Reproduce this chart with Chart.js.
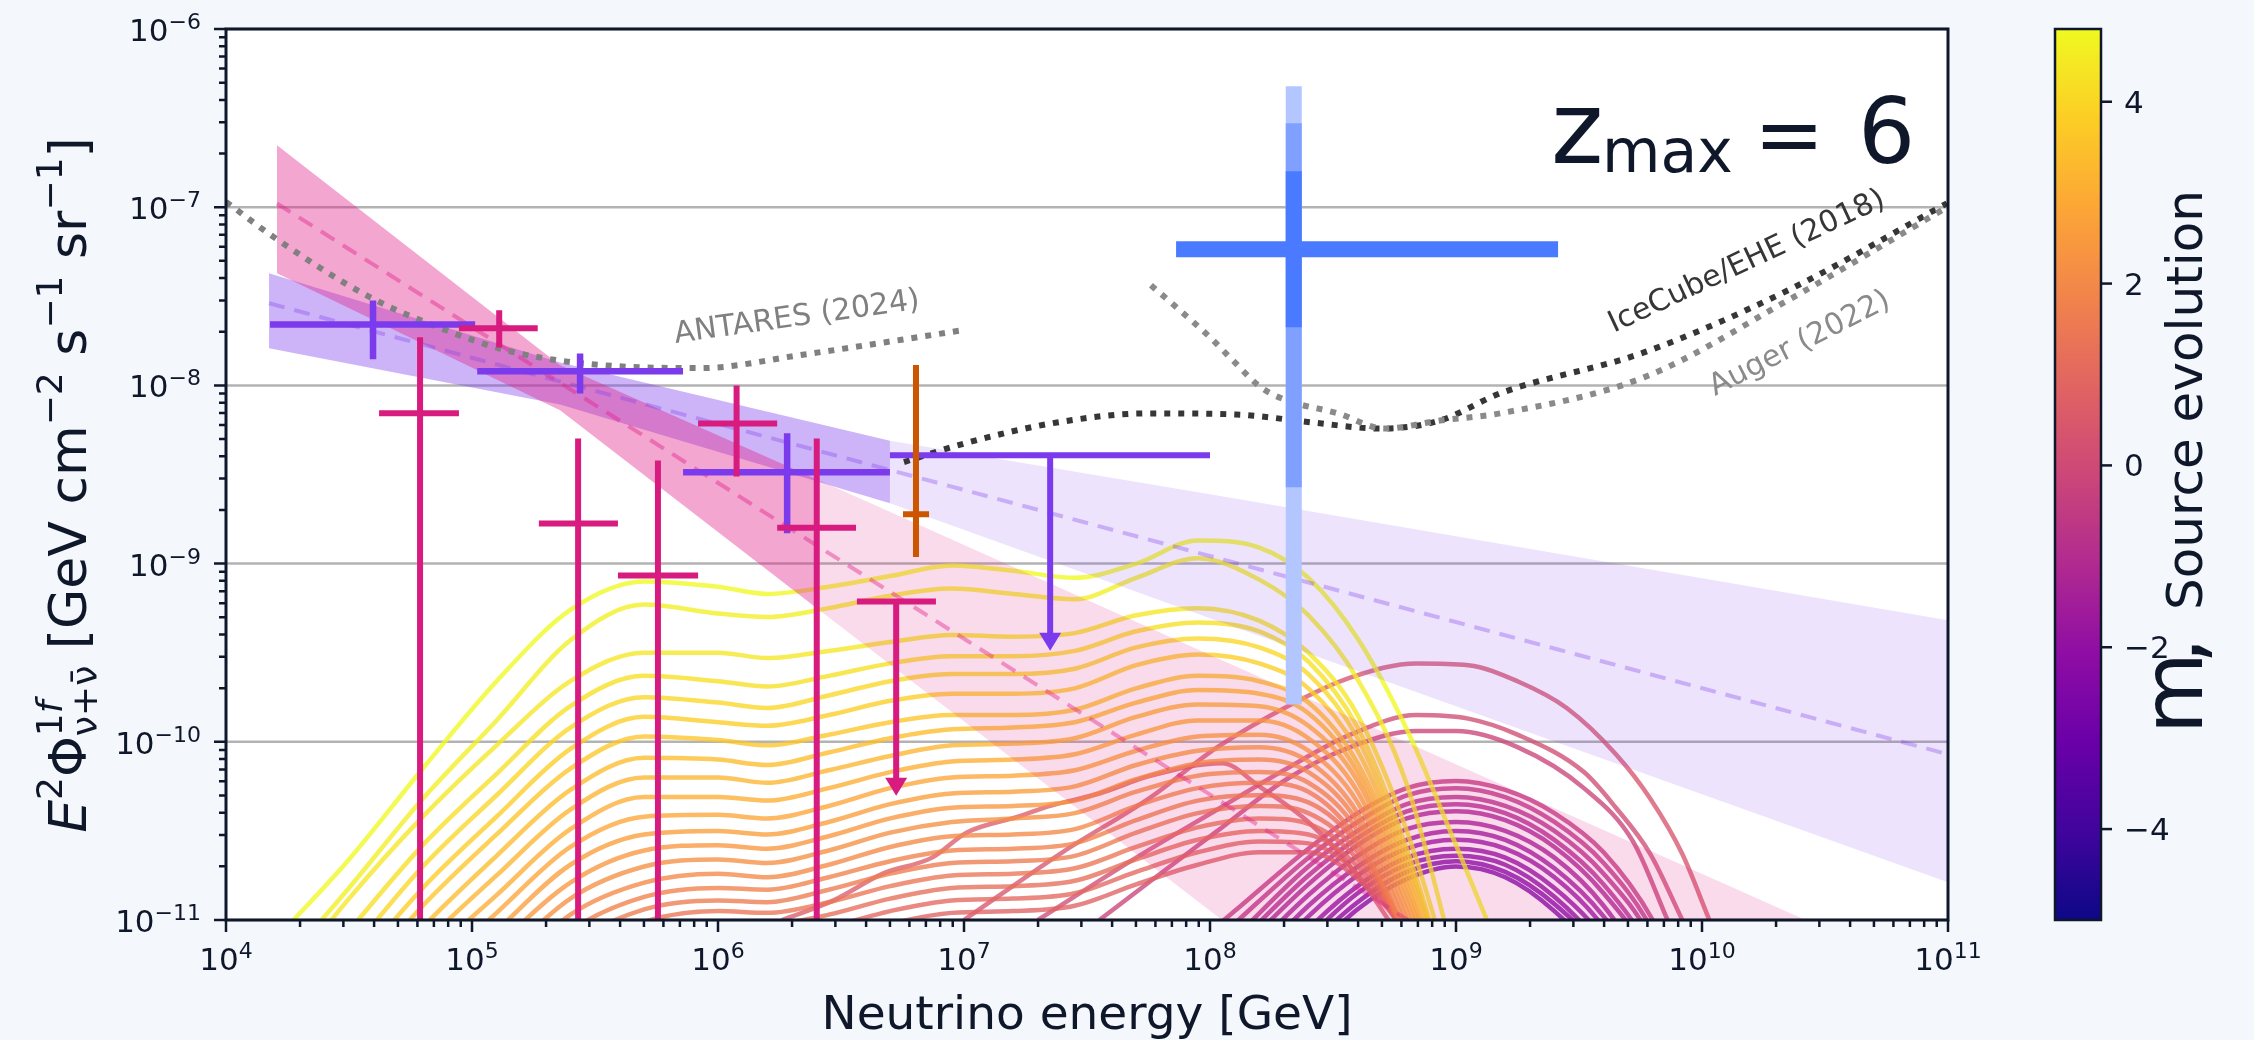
<!DOCTYPE html>
<html>
<head>
<meta charset="utf-8">
<script src="https://cdn.jsdelivr.net/npm/chart.js@4.4.1/dist/chart.umd.min.js"></script>
<style>
  html, body { margin: 0; padding: 0; background: #f4f7fb; }
  canvas { display: block; }
</style>
</head>
<body>
<canvas id="chart" width="2254" height="1040"></canvas>
<script>
// ---- model curves (log10 E [GeV] -> log10 E^2 Phi) ----
const plateauGrid = [4.2, 4.5, 4.8, 5.1, 5.4, 5.7, 6.0, 6.2, 6.45, 6.7, 6.95, 7.2, 7.45, 7.7, 7.95, 8.2, 8.4, 8.6, 8.8, 9.0, 9.2];
const plateauM = [4.8, 4.6, 4.4, 4.2, 4.0, 3.8, 3.6, 3.4, 3.2, 3.0, 2.8, 2.6, 2.4, 2.2, 2.0, 1.8, 1.6, 1.4, 1.2, 1.0, 0.8];
const plateauFlux = [
  [-11.11, -10.66, -10.15, -9.66, -9.26, -9.10, -9.13, -9.17, -9.13, -9.07, -9.01, -9.04, -9.08, -9.00, -8.87, -8.91, -9.08, -9.42, -9.93, -10.58, -11.25],
  [-11.30, -10.82, -10.32, -9.88, -9.43, -9.23, -9.28, -9.30, -9.25, -9.18, -9.14, -9.17, -9.20, -9.08, -8.97, -9.09, -9.29, -9.65, -10.24, -11.25, -12.2],
  [-11.40, -10.88, -10.42, -10.02, -9.66, -9.50, -9.50, -9.53, -9.49, -9.44, -9.40, -9.41, -9.39, -9.29, -9.25, -9.32, -9.50, -9.85, -10.50, -11.40, -12.3],
  [-11.55, -11.06, -10.58, -10.18, -9.80, -9.63, -9.66, -9.69, -9.63, -9.56, -9.52, -9.52, -9.49, -9.38, -9.33, -9.38, -9.55, -9.92, -10.60, -11.50, -12.4],
  [-11.70, -11.19, -10.70, -10.30, -9.92, -9.75, -9.78, -9.81, -9.74, -9.66, -9.62, -9.62, -9.59, -9.47, -9.42, -9.47, -9.62, -9.98, -10.65, -11.50, -12.4],
  [-11.80, -11.30, -10.82, -10.42, -10.04, -9.86, -9.89, -9.91, -9.85, -9.77, -9.73, -9.73, -9.70, -9.57, -9.51, -9.56, -9.70, -10.05, -10.70, -11.50, -12.4],
  [-11.90, -11.40, -10.92, -10.52, -10.15, -9.97, -9.99, -10.02, -9.96, -9.89, -9.85, -9.85, -9.82, -9.70, -9.63, -9.66, -9.78, -10.12, -10.75, -11.60, -12.4],
  [-12.00, -11.50, -11.04, -10.64, -10.27, -10.09, -10.10, -10.13, -10.06, -9.98, -9.93, -9.92, -9.89, -9.78, -9.71, -9.73, -9.84, -10.17, -10.80, -11.60, -12.4],
  [-12.10, -11.60, -11.14, -10.75, -10.38, -10.20, -10.20, -10.23, -10.16, -10.08, -10.02, -10.01, -9.98, -9.86, -9.79, -9.80, -9.91, -10.22, -10.85, -11.60, -12.4],
  [-12.20, -11.70, -11.24, -10.86, -10.49, -10.31, -10.31, -10.33, -10.26, -10.17, -10.11, -10.10, -10.07, -9.96, -9.88, -9.88, -9.98, -10.28, -10.90, -11.60, -12.4],
  [-12.30, -11.80, -11.34, -10.96, -10.59, -10.42, -10.41, -10.43, -10.36, -10.26, -10.20, -10.19, -10.16, -10.05, -9.97, -9.96, -10.05, -10.34, -10.95, -11.70, -12.4],
  [-12.40, -11.90, -11.45, -11.06, -10.69, -10.52, -10.50, -10.52, -10.45, -10.35, -10.29, -10.28, -10.25, -10.13, -10.05, -10.03, -10.11, -10.40, -11.00, -11.70, -12.4],
  [-12.50, -12.00, -11.55, -11.15, -10.79, -10.61, -10.58, -10.60, -10.53, -10.43, -10.37, -10.36, -10.33, -10.21, -10.12, -10.10, -10.17, -10.45, -11.05, -11.80, -12.4],
  [-12.60, -12.10, -11.65, -11.25, -10.88, -10.70, -10.66, -10.68, -10.61, -10.51, -10.45, -10.43, -10.40, -10.28, -10.19, -10.17, -10.23, -10.50, -11.10, -11.80, -12.4],
  [-12.70, -12.20, -11.75, -11.35, -10.97, -10.79, -10.74, -10.76, -10.69, -10.59, -10.53, -10.52, -10.49, -10.36, -10.26, -10.23, -10.28, -10.55, -11.10, -11.80, -12.4],
  [-12.80, -12.30, -11.85, -11.44, -11.06, -10.87, -10.82, -10.83, -10.76, -10.67, -10.61, -10.60, -10.57, -10.44, -10.33, -10.30, -10.34, -10.58, -11.10, -11.80, -12.4],
  [-12.90, -12.40, -11.95, -11.53, -11.14, -10.94, -10.89, -10.90, -10.83, -10.74, -10.68, -10.67, -10.64, -10.51, -10.40, -10.36, -10.40, -10.62, -11.10, -11.80, -12.4],
  [-13.00, -12.50, -12.05, -11.62, -11.22, -11.01, -10.95, -10.96, -10.90, -10.81, -10.75, -10.74, -10.71, -10.59, -10.48, -10.43, -10.46, -10.66, -11.10, -11.80, -12.4],
  [-13.00, -12.60, -12.15, -11.72, -11.32, -11.10, -11.04, -11.03, -10.97, -10.88, -10.82, -10.81, -10.78, -10.66, -10.55, -10.50, -10.52, -10.70, -11.10, -11.80, -12.4],
  [-13.00, -12.70, -12.25, -11.82, -11.42, -11.18, -11.12, -11.10, -11.04, -10.95, -10.89, -10.88, -10.85, -10.73, -10.62, -10.56, -10.57, -10.74, -11.10, -11.80, -12.4],
  [-13.00, -12.80, -12.35, -11.92, -11.52, -11.27, -11.20, -11.17, -11.11, -11.02, -10.96, -10.95, -10.92, -10.80, -10.69, -10.62, -10.62, -10.77, -11.10, -11.80, -12.4],
];

const archM = [0.6, 0.4, 0.1, -0.2];
const archE = [
  [6.26, 6.47, 6.67, 6.87, 7.01, 7.22, 7.35, 7.55, 7.76, 8.05, 8.2, 8.4, 8.6, 8.75],
  [7.0, 7.4, 7.76, 8.03, 8.33, 8.57, 8.84, 9.05, 9.25, 9.45, 9.65, 9.79, 9.92, 10.03],
  [7.3, 7.7, 8.03, 8.3, 8.57, 8.84, 9.05, 9.25, 9.52, 9.65, 9.79, 9.92],
  [7.55, 7.76, 8.03, 8.3, 8.57, 8.84, 9.0, 9.25, 9.52, 9.72, 9.86],
];
const archFlux = [
  [-11.0, -10.89, -10.74, -10.65, -10.51, -10.42, -10.36, -10.29, -10.19, -10.12, -10.25, -10.45, -10.75, -11.05],
  [-11.0, -10.62, -10.31, -10.03, -9.79, -9.64, -9.56, -9.57, -9.66, -9.81, -10.07, -10.32, -10.63, -11.0],
  [-11.0, -10.65, -10.38, -10.16, -9.96, -9.85, -9.87, -9.96, -10.17, -10.37, -10.63, -11.0],
  [-11.0, -10.78, -10.5, -10.22, -10.03, -9.94, -9.94, -10.03, -10.26, -10.56, -11.0],
];

const violetGrid = [7.8, 8.1, 8.4, 8.6, 8.8, 9.0, 9.2, 9.4, 9.6, 9.8, 10.0];
const violetM = [-0.5, -0.7, -0.9, -1.1, -1.3, -1.5, -1.7, -1.9, -2.1, -2.3, -2.5, -2.7];
const violetFlux = [
  [-11.30, -10.95, -10.60, -10.40, -10.26, -10.22, -10.27, -10.40, -10.62, -11.00, -11.6],
  [-11.40, -11.02, -10.65, -10.45, -10.30, -10.26, -10.31, -10.45, -10.68, -11.06, -11.7],
  [-11.50, -11.10, -10.70, -10.50, -10.35, -10.31, -10.36, -10.50, -10.74, -11.12, -11.8],
  [-11.55, -11.15, -10.75, -10.54, -10.39, -10.35, -10.40, -10.55, -10.80, -11.20, -11.9],
  [-11.60, -11.20, -10.80, -10.58, -10.43, -10.39, -10.44, -10.59, -10.85, -11.25, -12.0],
  [-11.70, -11.27, -10.86, -10.64, -10.49, -10.45, -10.50, -10.65, -10.92, -11.35, -12.0],
  [-11.80, -11.35, -10.92, -10.70, -10.55, -10.50, -10.55, -10.71, -10.98, -11.40, -12.0],
  [-11.90, -11.42, -10.98, -10.75, -10.60, -10.55, -10.60, -10.76, -11.04, -11.50, -12.0],
  [-12.00, -11.50, -11.05, -10.81, -10.65, -10.60, -10.65, -10.82, -11.10, -11.55, -12.0],
  [-12.00, -11.55, -11.10, -10.85, -10.69, -10.64, -10.69, -10.87, -11.16, -11.60, -12.0],
  [-12.00, -11.60, -11.15, -10.90, -10.73, -10.67, -10.73, -10.91, -11.20, -11.70, -12.0],
  [-12.00, -11.65, -11.20, -10.94, -10.77, -10.70, -10.76, -10.95, -11.25, -11.75, -12.0],
];

// ---- power-law fit bands (log10) ----
const pinkFitE = [4.207, 5.358, 6.402];
const pinkFitHi = [-6.652, -7.887, -8.527];
const pinkFitLo = [-7.371, -8.14, -9.25];
const pinkExtE = [6.402, 8.049, 11.0];
const pinkExtHi = [-8.527, -9.543, -11.355];
const pinkExtLo = [-9.25, -11.0, -14.1];
const pinkBestE = [4.207, 11.0];
const pinkBestF = [-6.979, -12.92];

const violetFitE = [4.175, 5.358, 6.699];
const violetFitHi = [-7.371, -7.871, -8.31];
const violetFitLo = [-7.792, -8.107, -8.661];
const violetExtE = [6.699, 8.0, 11.0];
const violetExtHi = [-8.31, -8.611, -9.318];
const violetExtLo = [-8.661, -9.306, -10.788];
const violetBestE = [4.175, 11.0];
const violetBestF = [-7.539, -10.07];

// ---- sensitivities (log10) ----
const antaresE = [4.0, 4.207, 4.585, 4.894, 5.13, 5.439, 5.927, 6.333, 6.996];
const antaresF = [-6.97, -7.18, -7.505, -7.69, -7.80, -7.875, -7.903, -7.83, -7.69];
const iceCubeE = [6.756, 7.004, 7.378, 7.752, 8.106, 8.415, 8.691, 8.935, 9.179, 9.764, 10.35, 10.996];
const iceCubeF = [-8.43, -8.325, -8.208, -8.157, -8.163, -8.208, -8.242, -8.197, -8.045, -7.815, -7.466, -6.978];
const augerE = [7.76, 7.878, 8.0, 8.093, 8.207, 8.313, 8.52, 8.707, 8.935, 9.179, 9.764, 10.35, 10.996];
const augerF = [-7.438, -7.579, -7.73, -7.86, -8.011, -8.084, -8.157, -8.242, -8.197, -8.157, -7.955, -7.522, -7.0];

// ---- measured points (GeV, GeV cm^-2 s^-1 sr^-1) ----
const magentaE = [6.15e4, 1.29e5, 2.70e5, 5.70e5, 1.19e6, 2.52e6];
const magentaElo = [4.19e4, 8.85e4, 1.87e5, 3.92e5, 8.30e5, 1.74e6];
const magentaEhi = [8.85e4, 1.85e5, 3.92e5, 8.30e5, 1.74e6, 3.64e6];
const magentaF = [6.97e-9, 2.09e-8, 1.68e-9, 8.57e-10, 6.12e-9, 1.59e-9];
const magentaFlo = [1e-13, 1.63e-8, 1e-13, 1e-13, 3.08e-9, 1e-13];
const magentaFhi = [1.86e-8, 2.64e-8, 5.04e-9, 3.79e-9, 1.0e-8, 5.04e-9];
const magentaLimit = [5.30e6, 3.67e6, 7.69e6, 6.12e-10, 4.98e-11]; // E, Elo, Ehi, F, arrow tip

const violetE = [3.96e4, 2.75e5, 1.91e6];
const violetElo = [1.51e4, 1.05e5, 7.21e5];
const violetEhi = [1.03e5, 7.21e5, 5.0e6];
const violetF = [2.2e-8, 1.2e-8, 3.26e-9];
const violetFlo = [1.40e-8, 9.0e-9, 1.48e-9];
const violetFhi = [3.0e-8, 1.51e-8, 5.39e-9];
const violetLimit = [2.24e7, 5.0e6, 1.0e8, 4.05e-9, 3.24e-10];

const orangePoint = [6.38e6, 5.65e6, 7.21e6, 1.89e-9, 1.09e-9, 1.30e-8]; // E, Elo, Ehi, F, Flo, Fhi

const bluePoint = [2.19e8, 7.28e7, 2.6e9, 5.8e-8];
const blueSigma1 = [2.12e-8, 1.59e-7];
const blueSigma2 = [2.68e-9, 2.96e-7];
const blueSigma3 = [1.62e-10, 4.78e-7];

// ---- axes ----
const xPowers = [4, 5, 6, 7, 8, 9, 10, 11];
const yPowers = [-11, -10, -9, -8, -7, -6];
const cbRange = [-5, 4.8];
const cbTicks = [-4, -2, 0, 2, 4];

const INK = '#0f172a';
const FONT = '"DejaVu Sans"';
const plasmaStops = ['#0d0887', '#41049d', '#6a00a8', '#8f0da4', '#b12a90', '#cc4778', '#e16462', '#f2844b', '#fca636', '#fcce25', '#f0f921'];

function hexRgb(h) {
    return [1, 3, 5].map((i) => parseInt(h.slice(i, i + 2), 16));
}

function plasma(m, alpha) {
    let t = (m - cbRange[0]) / (cbRange[1] - cbRange[0]);
    t = Math.min(1, Math.max(0, t));
    const p = t * (plasmaStops.length - 1);
    const i = Math.min(Math.floor(p), plasmaStops.length - 2);
    const f = p - i;
    const a = hexRgb(plasmaStops[i]);
    const b = hexRgb(plasmaStops[i + 1]);
    const c = a.map((v, k) => Math.round(v + (b[k] - v) * f));
    return `rgba(${c[0]}, ${c[1]}, ${c[2]}, ${alpha})`;
}

function pts(xs, ys) {
    return xs.map((x, i) => ({ x: 10 ** x, y: 10 ** ys[i] }));
}

const datasets = [];

function addCurve(data, m) {
    datasets.push({
        data, borderColor: plasma(m, 0.78), borderWidth: 4.5, pointRadius: 0,
        fill: false, cubicInterpolationMode: 'monotone', order: 40, clip: 0,
    });
}

plateauFlux.forEach((row, i) => addCurve(pts(plateauGrid, row), plateauM[i]));
archFlux.forEach((row, i) => addCurve(pts(archE[i], row), archM[i]));
violetFlux.forEach((row, i) => addCurve(pts(violetGrid, row), violetM[i]));

function addBand(xs, lo, hi, color) {
    const loIndex = datasets.length;
    datasets.push({ data: pts(xs, lo), borderWidth: 0, pointRadius: 0, fill: false, order: 30, clip: 0 });
    datasets.push({
        data: pts(xs, hi), borderWidth: 0, pointRadius: 0, order: 30, clip: 0,
        fill: loIndex, backgroundColor: color,
    });
}

addBand(pinkFitE, pinkFitLo, pinkFitHi, 'rgba(224, 33, 138, 0.40)');
addBand(pinkExtE, pinkExtLo, pinkExtHi, 'rgba(224, 33, 138, 0.16)');
addBand(violetFitE, violetFitLo, violetFitHi, 'rgba(124, 58, 237, 0.38)');
addBand(violetExtE, violetExtLo, violetExtHi, 'rgba(124, 58, 237, 0.14)');

datasets.push({
    data: pts(pinkBestE, pinkBestF), borderColor: 'rgba(224, 33, 138, 0.42)', borderWidth: 4,
    borderDash: [16, 10], pointRadius: 0, fill: false, order: 20, clip: 0,
});
datasets.push({
    data: pts(violetBestE, violetBestF), borderColor: 'rgba(124, 58, 237, 0.32)', borderWidth: 4,
    borderDash: [16, 10], pointRadius: 0, fill: false, order: 20, clip: 0,
});

function addSensitivity(xs, ys, color) {
    datasets.push({
        data: pts(xs, ys), borderColor: color, borderWidth: 6, borderDash: [6, 8],
        borderCapStyle: 'butt', pointRadius: 0, fill: false,
        cubicInterpolationMode: 'monotone', order: 10, clip: 0,
    });
}

addSensitivity(antaresE, antaresF, '#808080');
addSensitivity(augerE, augerF, '#8a8a8a');
addSensitivity(iceCubeE, iceCubeF, '#363636');

// ---- drawing helpers ----
function errorBar(ctx, sx, sy, e, elo, ehi, f, flo, fhi, color, lw) {
    const x = sx.getPixelForValue(e);
    const y = sy.getPixelForValue(f);
    ctx.strokeStyle = color;
    ctx.lineWidth = lw;
    ctx.lineCap = 'butt';
    ctx.beginPath();
    ctx.moveTo(sx.getPixelForValue(elo), y);
    ctx.lineTo(sx.getPixelForValue(ehi), y);
    ctx.moveTo(x, sy.getPixelForValue(fhi));
    ctx.lineTo(x, sy.getPixelForValue(flo));
    ctx.stroke();
}

function upperLimit(ctx, sx, sy, vals, color, lw) {
    const [e, elo, ehi, f, tip] = vals;
    const x = sx.getPixelForValue(e);
    const y = sy.getPixelForValue(f);
    const ty = sy.getPixelForValue(tip);
    ctx.strokeStyle = color;
    ctx.fillStyle = color;
    ctx.lineWidth = lw;
    ctx.lineCap = 'butt';
    ctx.beginPath();
    ctx.moveTo(sx.getPixelForValue(elo), y);
    ctx.lineTo(sx.getPixelForValue(ehi), y);
    ctx.moveTo(x, y);
    ctx.lineTo(x, ty - 16);
    ctx.stroke();
    ctx.beginPath();
    ctx.moveTo(x - 11, ty - 18);
    ctx.lineTo(x + 11, ty - 18);
    ctx.lineTo(x, ty);
    ctx.closePath();
    ctx.fill();
}

function runs(ctx, pieces, x, baseline, draw) {
    let cx = x;
    for (const p of pieces) {
        if (p.stack) {
            let w1 = 0;
            for (const s of p.sup) {
                ctx.font = `${s.it ? 'italic ' : ''}${p.s}px ${FONT}`;
                if (draw) ctx.fillText(s.t, cx + w1, baseline + p.dsup);
                w1 += ctx.measureText(s.t).width;
            }
            ctx.font = `${p.s}px ${FONT}`;
            if (draw) ctx.fillText(p.sub, cx, baseline + p.dsub);
            cx += Math.max(w1, ctx.measureText(p.sub).width);
            continue;
        }
        ctx.font = `${p.it ? 'italic ' : ''}${p.s}px ${FONT}`;
        if (draw) ctx.fillText(p.t, cx, baseline + (p.dy || 0));
        cx += ctx.measureText(p.t).width;
    }
    return cx - x;
}

function powerLabel(ctx, exp, x, baseline, align, big, small, raise) {
    const e = exp < 0 ? '\u2212' + Math.abs(exp) : String(exp);
    ctx.font = `${big}px ${FONT}`;
    const w1 = ctx.measureText('10').width;
    ctx.font = `${small}px ${FONT}`;
    const w2 = ctx.measureText(e).width;
    const left = align === 'center' ? x - (w1 + w2) / 2 : x - (w1 + w2);
    ctx.textAlign = 'left';
    ctx.font = `${big}px ${FONT}`;
    ctx.fillText('10', left, baseline);
    ctx.font = `${small}px ${FONT}`;
    ctx.fillText(e, left + w1, baseline - raise);
}

function rotatedText(ctx, text, x, y, deg, size, color) {
    ctx.save();
    ctx.translate(x, y);
    ctx.rotate(deg * Math.PI / 180);
    ctx.font = `${size}px ${FONT}`;
    ctx.fillStyle = color;
    ctx.textAlign = 'center';
    ctx.textBaseline = 'middle';
    ctx.fillText(text, 0, 0);
    ctx.restore();
}

const backdrop = {
    id: 'backdrop',
    beforeDraw(chart) {
        const { ctx, chartArea: a } = chart;
        ctx.save();
        ctx.fillStyle = '#f4f7fb';
        ctx.fillRect(0, 0, chart.width, chart.height);
        ctx.fillStyle = '#ffffff';
        ctx.fillRect(a.left, a.top, a.right - a.left, a.bottom - a.top);
        const sy = chart.scales.y;
        ctx.strokeStyle = '#b3b3b3';
        ctx.lineWidth = 2.5;
        yPowers.forEach((p) => {
            const y = sy.getPixelForValue(10 ** p);
            ctx.beginPath();
            ctx.moveTo(a.left, y);
            ctx.lineTo(a.right, y);
            ctx.stroke();
        });
        ctx.restore();
    },
};

const overlay = {
    id: 'overlay',
    afterDatasetsDraw(chart) {
        const { ctx, chartArea: a } = chart;
        const sx = chart.scales.x;
        const sy = chart.scales.y;
        ctx.save();
        ctx.beginPath();
        ctx.rect(a.left, a.top, a.right - a.left, a.bottom - a.top);
        ctx.clip();

        // blue point: 3, 2, 1 sigma bands
        const bx = sx.getPixelForValue(bluePoint[0]);
        [[blueSigma3, '#b3c6ff'], [blueSigma2, '#80a0ff'], [blueSigma1, '#4a7aff']].forEach(([s, c]) => {
            ctx.strokeStyle = c;
            ctx.lineWidth = 16;
            ctx.beginPath();
            ctx.moveTo(bx, sy.getPixelForValue(s[1]));
            ctx.lineTo(bx, sy.getPixelForValue(s[0]));
            ctx.stroke();
        });
        ctx.strokeStyle = '#4a7aff';
        ctx.lineWidth = 16;
        ctx.beginPath();
        const by = sy.getPixelForValue(bluePoint[3]);
        ctx.moveTo(sx.getPixelForValue(bluePoint[1]), by);
        ctx.lineTo(sx.getPixelForValue(bluePoint[2]), by);
        ctx.stroke();

        violetE.forEach((e, i) => errorBar(ctx, sx, sy, e, violetElo[i], violetEhi[i],
            violetF[i], violetFlo[i], violetFhi[i], '#7c3aed', 6.5));
        upperLimit(ctx, sx, sy, violetLimit, '#7c3aed', 6);

        magentaE.forEach((e, i) => errorBar(ctx, sx, sy, e, magentaElo[i], magentaEhi[i],
            magentaF[i], magentaFlo[i], magentaFhi[i], '#d81b7e', 6));
        upperLimit(ctx, sx, sy, magentaLimit, '#d81b7e', 6);

        const [oe, oelo, oehi, of, oflo, ofhi] = orangePoint;
        errorBar(ctx, sx, sy, oe, oelo, oehi, of, oflo, ofhi, '#cc5500', 6);
        ctx.restore();
    },
    afterDraw(chart) {
        const { ctx, chartArea: a } = chart;
        const sx = chart.scales.x;
        const sy = chart.scales.y;
        ctx.save();
        ctx.fillStyle = INK;
        ctx.strokeStyle = INK;
        ctx.textBaseline = 'alphabetic';

        // ticks
        ctx.lineWidth = 2.5;
        ctx.beginPath();
        xPowers.forEach((p) => {
            const x = sx.getPixelForValue(10 ** p);
            ctx.moveTo(x, a.bottom);
            ctx.lineTo(x, a.bottom + 12);
            if (p < 11) {
                for (let k = 2; k <= 9; k++) {
                    const xm = sx.getPixelForValue(k * 10 ** p);
                    ctx.moveTo(xm, a.bottom);
                    ctx.lineTo(xm, a.bottom + 7);
                }
            }
        });
        yPowers.forEach((p) => {
            const y = sy.getPixelForValue(10 ** p);
            ctx.moveTo(a.left, y);
            ctx.lineTo(a.left - 12, y);
            if (p < -6) {
                for (let k = 2; k <= 9; k++) {
                    const ym = sy.getPixelForValue(k * 10 ** p);
                    ctx.moveTo(a.left, ym);
                    ctx.lineTo(a.left - 7, ym);
                }
            }
        });
        ctx.stroke();

        // spines
        ctx.lineWidth = 3;
        ctx.strokeRect(a.left, a.top, a.right - a.left, a.bottom - a.top);

        xPowers.forEach((p) => powerLabel(ctx, p, sx.getPixelForValue(10 ** p), 970, 'center', 31, 22, 12));
        yPowers.forEach((p) => powerLabel(ctx, p, 201, sy.getPixelForValue(10 ** p) + 12, 'right', 31, 22, 12));

        // axis titles
        ctx.font = `47px ${FONT}`;
        ctx.textAlign = 'center';
        ctx.fillText('Neutrino energy [GeV]', (a.left + a.right) / 2, 1029);

        const yPieces = [
            { t: 'E', s: 52, it: true }, { t: '2', s: 36, dy: -24 }, { t: '\u03a6', s: 52 },
            { stack: true, s: 36, sup: [{ t: '1' }, { t: 'f', it: true }], sub: '\u03bd+\u03bd\u0304', dsup: -24, dsub: 11 },
            { t: ' [GeV cm', s: 52 }, { t: '\u22122', s: 36, dy: -24 },
            { t: ' s', s: 52 }, { t: '\u22121', s: 36, dy: -24 },
            { t: ' sr', s: 52 }, { t: '\u22121', s: 36, dy: -24 }, { t: ']', s: 52 },
        ];
        ctx.save();
        ctx.translate(86, 485);
        ctx.rotate(-Math.PI / 2);
        ctx.textAlign = 'left';
        const wy = runs(ctx, yPieces, 0, 0, false);
        runs(ctx, yPieces, -wy / 2, 0, true);
        ctx.restore();

        // z_max annotation
        ctx.textAlign = 'left';
        ctx.font = `100px ${FONT}`;
        ctx.fillText('z', 1551, 163);
        ctx.font = `60px ${FONT}`;
        ctx.fillText('max', 1602, 172);
        ctx.font = `84px ${FONT}`;
        ctx.fillText('=', 1754, 163);
        ctx.font = `90px ${FONT}`;
        ctx.fillText('6', 1858, 163);

        // sensitivity labels
        rotatedText(ctx, 'ANTARES (2024)', 797, 318, -8, 30, '#808080');
        rotatedText(ctx, 'IceCube/EHE (2018)', 1747, 262, -25, 30, '#363636');
        rotatedText(ctx, 'Auger (2022)', 1800, 344, -27, 30, '#8a8a8a');

        // colorbar
        const cb = { left: 2055, right: 2101, top: a.top, bottom: a.bottom };
        const grad = ctx.createLinearGradient(0, cb.bottom, 0, cb.top);
        plasmaStops.forEach((c, i) => grad.addColorStop(i / (plasmaStops.length - 1), c));
        ctx.fillStyle = grad;
        ctx.fillRect(cb.left, cb.top, cb.right - cb.left, cb.bottom - cb.top);
        ctx.strokeStyle = INK;
        ctx.lineWidth = 2.5;
        ctx.strokeRect(cb.left, cb.top, cb.right - cb.left, cb.bottom - cb.top);
        ctx.fillStyle = INK;
        ctx.font = `31px ${FONT}`;
        ctx.textAlign = 'left';
        cbTicks.forEach((v) => {
            const y = cb.bottom - (v - cbRange[0]) / (cbRange[1] - cbRange[0]) * (cb.bottom - cb.top);
            ctx.beginPath();
            ctx.moveTo(cb.right, y);
            ctx.lineTo(cb.right + 11, y);
            ctx.stroke();
            ctx.fillText(v < 0 ? '\u2212' + Math.abs(v) : String(v), 2124, y + 11);
        });

        ctx.save();
        ctx.translate(2202, 734);
        ctx.rotate(-Math.PI / 2);
        ctx.font = `84px ${FONT}`;
        ctx.fillText('m', 0, 0);
        ctx.fillText(',', 70, 0);
        ctx.font = `50px ${FONT}`;
        ctx.fillText('Source evolution', 124, 0);
        ctx.restore();

        ctx.restore();
    },
};

new Chart(document.getElementById('chart'), {
    type: 'line',
    data: { datasets },
    options: {
        responsive: false,
        animation: false,
        devicePixelRatio: 1,
        layout: { padding: { left: 226, right: 306, top: 29, bottom: 120 } },
        elements: { line: { capBezierPoints: false }, point: { radius: 0 } },
        scales: {
            x: { type: 'logarithmic', min: 1e4, max: 1e11, display: false },
            y: { type: 'logarithmic', min: 1e-11, max: 1e-6, display: false },
        },
        plugins: { legend: { display: false }, tooltip: { enabled: false } },
    },
    plugins: [backdrop, overlay],
});
</script>
</body>
</html>
